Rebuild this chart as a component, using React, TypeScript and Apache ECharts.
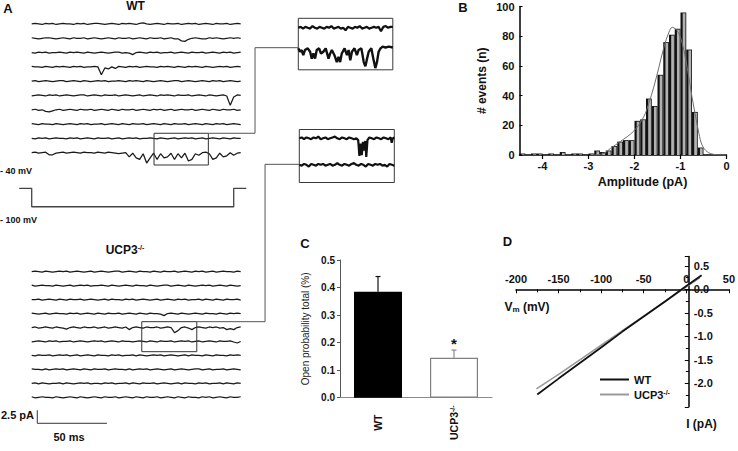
import { useEffect, useRef } from 'react';
import * as echarts from 'echarts';

const FONT = '"Liberation Sans", Arial, Helvetica, sans-serif';

// ---------------- Panel A: single-channel traces (units of 0.1 pA) ----------------
const traceDurationMs = 150;
const traceUnitPa = 0.1;

const wt1 = [0,1,0,-1,1,0,1,-1,0,1, 0,0,-1,1,0,1,-1,0,1,1, 0,-1,0,1,0,-1,1,0,1,0, -1,1,2,0,-1,0,1,0,-1,1, 0,0,1,-1,0,1,0,1,-1,0, 1,0,-1,1,0,0,1,-1,0,1, 0];
const wt2 = [1,0,-1,0,1,1,0,-1,0,1, 0,-1,1,0,0,1,-1,0,1,0, -1,0,1,0,-1,1,0,0,1,-1, 0,1,0,-1,1,0,0,1,-1,0, 1,-1,-1,-5,-6,-2,0,1,0,-1, -1,1,0,1,0,-1,0,1,0,1, 0];
const wt3 = [0,-1,1,0,1,-1,0,0,1,0, -1,1,0,1,0,-1,1,0,-1,0, 1,0,-1,0,1,1,-1,0,-1,-4, 0,1,0,-1,1,0,1,-1,0,0, 1,-1,0,1,0,-1,1,0,0,1, -1,0,1,0,-1,1,0,1,-1,0, 1];
const wt4 = [1,0,0,-1,1,0,-1,1,0,1, 0,-1,1,0,1,-1,0,0,1,0, -15,-2,-4,0,-3,1,0,-1,1,0, 1,-1,0,1,0,0,-1,1,0,1, 0,-1,1,0,-1,1,0,1,0,-1, 1,0,-1,0,1,0,1,-1,0,1, 0];
const wt5 = [0,1,-1,0,1,0,-1,0,1,1, -1,0,1,0,-1,1,0,-1,0,1, 0,1,-1,0,0,1,0,-1,1,0, 1,0,-1,1,0,-1,0,1,0,-1, 0,1,1,-1,0,1,0,-1,0,1, 0,-1,1,0,1,-1,0,1,0,-1, 0];
const wt6 = [-1,0,1,0,-1,1,0,1,-1,0, 1,0,-1,0,1,1,-1,0,1,0, -1,1,0,0,1,-1,0,1,0,-1, 0,1,-1,0,1,0,-1,1,0,1, 0,-1,1,0,0,1,-1,0,1,0, -1,1,0,-1,0,1,-1,-19,-3,1, 0];
const wt7 = [0,1,-1,0,-3,-4,-2,0,1,-1, 0,1,0,-1,1,0,0,1,-1,0, 1,0,-1,1,0,-1,1,0,0,1, -1,0,1,0,-1,1,0,1,-1,0, 1,-1,0,1,0,0,1,-1,0,1, 0,-1,1,0,-1,1,0,0,1,-1, 0];
const wt8 = [1,0,-1,1,0,0,-1,1,0,-1, 0,1,0,-1,1,0,1,-1,0,0, 1,-1,0,1,0,-1,1,0,-1,1, 0,0,1,-1,0,1,0,-1,1,0, -1,1,0,0,1,-1,0,1,0,-1, 1,0,-1,1,0,1,-1,0,1,0, -1];
const wt9 = [0,-1,1,0,1,-1,0,1,0,0, -1,1,0,1,-1,0,1,0,-1,1, 0,0,1,-1,0,1,-1,0,1,0, 1,-1,0,0,1,0,-1,1,0,-1, 0,1,-1,0,1,0,1,-1,0,1, -1,0,1,0,-1,1,0,-1,1,0, 0];
const wt10 = [0,1,-1,0,1,-4,-4,-1,0,1, -1,0,1,0,-1,1,0,0,-1,1, 0,-1,1,0,-1,-2,-1,0,-8,-1, -10,-13,-2,-20,-10,-1,-13,-2,-10,-8, -1,-13,-2,-10,-1,-16,-13,-2,-5,0, 1,-2,-13,-10,-1,-8,-6,0,-5,-1, 0];

const ucp1 = [0,1,0,-1,1,0,-1,0,1,0, 1,-1,0,1,0,-1,0,1,-1,0, 1,0,-1,0,1,1,-1,0,1,0, -1,1,0,0,-1,1,0,-1,1,0, 0,1,-1,0,1,0,-1,1,0,1, -1,0,1,-1,0,1,0,0,-1,1, 0];
const ucp2 = [1,-1,0,1,0,0,-1,1,0,-1, 0,1,-1,0,1,0,1,-1,0,0, 1,0,-1,1,0,-1,0,1,0,-1, 1,0,0,-1,1,0,-1,0,1,1, -1,0,1,0,-1,1,0,-1,0,1, 0,1,-1,0,1,0,-1,1,0,-1, 0];
const ucp3 = [0,0,1,-1,0,1,0,-1,1,0, -1,1,0,0,1,-1,0,1,0,-1, 0,1,-1,1,0,0,-1,1,0,1, -1,0,1,0,-1,0,1,-1,0,1, 0,-1,1,0,1,-1,0,0,1,-1, 1,0,-1,1,0,-1,1,0,0,1, -1];
const ucp4 = [1,0,-1,0,1,-1,0,1,0,0, -1,1,0,1,-1,0,1,0,-1,1, 0,-1,1,0,0,1,-1,0,1,0, -1,1,0,-1,1,0,0,-1,-4,0, 1,0,-1,1,0,-1,0,1,0,-1, 1,0,0,-1,1,0,-1,1,0,1, 0];
const ucp5 = [0,1,-1,0,1,0,-1,1,0,-1, -3,0,1,0,-1,1,0,0,1,-1, 0,1,-1,0,1,0,-1,1,-4,0, 1,0,-1,1,0,0,1,-1,0,1, 0,-10,-6,0,1,-1,-4,0,1,0, -1,1,0,1,-1,0,-4,-2,-4,0, 1];
const ucp6 = [-1,0,1,0,-1,1,0,1,-1,0, 0,1,-1,0,1,0,-1,0,1,0, 1,-1,0,1,0,-1,1,0,0,-1, 0,1,0,-1,1,0,-1,1,0,0, 1,-1,0,1,0,1,-1,0,1,-1, 0,1,0,-1,1,0,0,1,-1,-3, 0];
const ucp7 = [0,-1,1,0,0,1,-1,0,1,0, 1,-1,0,1,-1,0,1,0,-1,1, 0,0,-1,1,0,1,-1,0,0,1, -1,1,0,-1,0,1,0,1,-1,0, 1,0,-1,0,1,-1,1,0,0,-1, 1,0,-1,1,0,0,-1,1,0,1, 0];
const ucp8 = [1,0,0,-1,1,-1,0,1,0,1, -1,0,1,0,-1,1,0,-1,1,0, 0,1,-1,0,1,0,0,-1,1,-1, 0,1,0,1,-1,0,1,0,-1,0, 1,-1,0,1,0,-1,0,1,1,-1, 0,1,-1,0,0,1,-1,0,1,0, -1];
const ucp9 = [0,1,-1,1,0,-1,0,0,1,-1, 1,0,-1,0,1,0,1,-1,0,0, -1,1,0,1,-1,0,0,1,-1,1, 0,-1,1,0,0,1,-1,0,1,0, -1,0,1,-1,1,0,0,-1,1,0, 1,-1,0,0,1,-1,1,0,-1,1, 0];
const ucp10 = [1,-1,0,1,0,0,-1,1,0,-1, 0,1,0,-1,1,0,-1,0,1,0, -1,1,0,0,1,-1,0,1,0,-1, 1,0,-1,1,0,0,1,-1,0,1, 0,-1,1,0,-1,1,0,0,-1,1, 0,1,-1,0,1,0,-1,1,0,0, 1];

const wtTraces = [wt1, wt2, wt3, wt4, wt5, wt6, wt7, wt8, wt9, wt10];
const ucpTraces = [ucp1, ucp2, ucp3, ucp4, ucp5, ucp6, ucp7, ucp8, ucp9, ucp10];

// insets (expanded views, 40 ms windows, units of 0.1 pA)
const wtInsetUpper = [0,1,-1,1,0,-1,2,0,-1,1, 0,-1,1,0,2,-1,0,1,-1,0, -3,1,0,-1,1,0,2,-1,0,1, -1,0,1,0,1,-4,1,2,0,1, 1];
const wtInsetLower: [number, number][] = [
  [0,0],[0.7,-4],[1.4,-2],[2.1,-8],[2.8,-2],[4.0,0],[5.0,-4],[5.7,-12],[6.4,-6],[7.1,-12],[7.8,-2],[8.8,0],
  [9.6,-6],[10.6,-4],[11.6,0],[12.8,-12],[13.5,-6],[14.2,-2],[15.3,-8],[16.3,-16],[17.0,-10],[17.7,-16],
  [18.4,-6],[19.6,0],[20.6,-8],[21.3,-2],[22.0,-14],[22.7,-4],[23.8,0],[24.8,-8],[25.5,-2],[26.7,0],
  [27.7,-16],[28.4,-21],[29.1,-12],[29.8,-4],[30.9,0],[31.9,-14],[32.6,-23],[33.3,-16],[34.0,-4],[34.8,0],
  [35.7,2],[36.9,1],[38.3,2],[40,1],
];
const ucpInsetUpper: [number, number][] = [
  [0,0],[1,1],[2,-1],[3,1],[4,0],[5,-1],[6,1],[7,0],[8,2],[9,-1],[10,0],[11,1],[12,-1],[13,0],[14,1],
  [15,2],[16,0],[17,-1],[18,1],[19,0],[20,-1],[21,1],[22,0],[23,-1],[24,0],[24.8,-2],[25.3,-20],[25.8,-6],
  [26.3,-19],[26.8,-4],[27.3,-14],[27.8,-3],[28.2,-21],[28.7,-2],[29.5,1],[30.5,0],[31.5,-1],[32.5,1],
  [33.5,0],[34.5,-1],[35.5,1],[36.5,0],[37.5,-1],[38.5,1],[38.9,-5],[39.4,0],[40,1],
];
const ucpInsetLower = [0,-1,1,0,-2,1,0,-1,1,0, 1,-1,0,1,-1,0,2,0,-1,1, 0,-1,1,2,0,-1,1,0,-2,1, 0,-1,1,0,1,-1,0,-2,1,0, -1];

// voltage protocol
const protocolTimeMs = [-9, 0, 0, 145, 145, 154];
const protocolMv = [-40, -40, -100, -100, -40, -40];

// ---------------- Panel B: amplitude histogram ----------------
const binStartPa = -4.5;
const binWidthPa = 0.125;
const eventCounts = [1,0,1,1,0,1,0,2,0,1,1,0,1,3,2,3,6,9,10,10,23,24,38,33,54,76,81,85,96,71,29,5];
const fitAmplitude = [-2.9,-2.67,-2.52,-2.31,-2.02,-1.8,-1.69,-1.58,-1.47,-1.36,-1.25,-1.18,-1.11,-1.04,-0.96,-0.89,-0.82,-0.75,-0.67,-0.6,-0.53,-0.42,-0.27,0];
const fitCount = [0,1,4.5,9,16,25.7,34.7,45.9,59,72.7,82.8,86,85,82,75,65,52.6,39,25.7,14.5,6.7,2.2,0.4,0];
const ampTicks = [-4, -3, -2, -1, 0];

// ---------------- Panel C: open probability ----------------
const groups = ['WT', 'UCP3'];
const openProbability = [0.385, 0.145];
const openProbabilitySem = [0.055, 0.028];
const significance = ['', '*'];

// ---------------- Panel D: I-V relation ----------------
const ivVoltage = [-175, -150, -125, -100, -75, -50, -25, 0, 18];
const wtCurrent = [-2.24, -1.90, -1.57, -1.24, -0.90, -0.58, -0.26, 0.07, 0.30];
const ucpVoltage = [-176, -150, -125, -100, -75, -50, -25, 0, 16];
const ucpCurrent = [-2.12, -1.81, -1.50, -1.19, -0.88, -0.57, -0.26, 0.05, 0.25];

// ---------------- layout constants (panel A, in axis units) ----------------
const WT_TOP_PA = 82.12, WT_SPACING_PA = 2.75;
const UCP_TOP_PA = 34.48, UCP_SPACING_PA = 2.683;
const SCALE_BAR = { t0: 4, v0: 5.33, ms: 50, pa: 2.5 };
const WT_BOX = { t: [87.8, 126.8], v: [55.0, 61.1] };
const UCP_BOX = { t: [79.0, 118.5], v: [19.1, 24.87] };
const WT_LINK = { t: [126.8, 160.3, 160.3, 191.4], v: [61.1, 61.1, 77.56, 77.56] };
const UCP_LINK = { t: [118.5, 167.5, 167.5, 192.1], v: [24.87, 24.87, 55.13, 55.13] };

// panel D geometry
const D_GRID = { left: 516, top: 256.4, width: 216, height: 150.4 };
const D_X = [-200, 50];
const D_Y = [-2.5, 0.7];

const supRich = (size: number) => ({
  b: { fontSize: size, fontWeight: 'bold', fontFamily: FONT, color: '#111', fill: '#111' },
  s: { fontSize: Math.round(size * 0.62), fontWeight: 'bold', fontFamily: FONT, color: '#111', fill: '#111', verticalAlign: 'top' },
});
const ucpLabel = (name: string) => (name === 'UCP3' ? '{b|UCP3}{s|-/-}' : '{b|' + name + '}');

function buildOption(): any {
  const series: any[] = [];
  const lineBase = { type: 'line', symbol: 'none', showSymbol: false, silent: true, animation: false };
  const traceStyle = { color: '#1a1a1a', width: 1.25 };

  wtTraces.forEach((tr, k) => {
    const off = WT_TOP_PA - k * WT_SPACING_PA;
    series.push({ ...lineBase, name: 'wt-trace-' + (k + 1), xAxisIndex: 0, yAxisIndex: 0, lineStyle: traceStyle,
      data: tr.map((d, i) => [i * traceDurationMs / (tr.length - 1), off + d * traceUnitPa]) });
  });
  ucpTraces.forEach((tr, k) => {
    const off = UCP_TOP_PA - k * UCP_SPACING_PA;
    series.push({ ...lineBase, name: 'ucp-trace-' + (k + 1), xAxisIndex: 0, yAxisIndex: 0, lineStyle: traceStyle,
      data: tr.map((d, i) => [i * traceDurationMs / (tr.length - 1), off + d * traceUnitPa]) });
  });
  series.push({ ...lineBase, name: 'scale', xAxisIndex: 0, yAxisIndex: 0, lineStyle: { color: '#333', width: 1 },
    data: [[SCALE_BAR.t0, SCALE_BAR.v0 + SCALE_BAR.pa], [SCALE_BAR.t0, SCALE_BAR.v0], [SCALE_BAR.t0 + SCALE_BAR.ms, SCALE_BAR.v0]] });
  [WT_BOX, UCP_BOX].forEach((b, k) => {
    series.push({ ...lineBase, name: 'box-' + k, xAxisIndex: 0, yAxisIndex: 0, lineStyle: { color: '#333', width: 1 },
      data: [[b.t[0], b.v[1]], [b.t[1], b.v[1]], [b.t[1], b.v[0]], [b.t[0], b.v[0]], [b.t[0], b.v[1]]] });
  });
  [WT_LINK, UCP_LINK].forEach((l, k) => {
    series.push({ ...lineBase, name: 'link-' + k, xAxisIndex: 0, yAxisIndex: 0, lineStyle: { color: '#555', width: 1 },
      data: l.t.map((t, i) => [t, l.v[i]]) });
  });
  series.push({ ...lineBase, name: 'protocol', xAxisIndex: 1, yAxisIndex: 1, lineStyle: { color: '#444', width: 1.3 },
    data: protocolTimeMs.map((t, i) => [t, protocolMv[i]]) });
  series.push({ ...lineBase, name: 'wt-inset-up', xAxisIndex: 2, yAxisIndex: 2, lineStyle: { color: '#111', width: 2.2 },
    data: wtInsetUpper.map((d, i) => [i * 40 / (wtInsetUpper.length - 1), 2.4 + d * traceUnitPa]) });
  series.push({ ...lineBase, name: 'wt-inset-low', xAxisIndex: 2, yAxisIndex: 2, lineStyle: { color: '#111', width: 2.4 },
    data: wtInsetLower.map(([t, d]) => [t, d * traceUnitPa]) });
  series.push({ ...lineBase, name: 'ucp-inset-up', xAxisIndex: 3, yAxisIndex: 3, lineStyle: { color: '#111', width: 2.2 },
    data: ucpInsetUpper.map(([t, d]) => [t, 3.0 + d * traceUnitPa]) });
  series.push({ ...lineBase, name: 'ucp-inset-low', xAxisIndex: 3, yAxisIndex: 3, lineStyle: { color: '#111', width: 2.2 },
    data: ucpInsetLower.map((d, i) => [i * 40 / (ucpInsetLower.length - 1), d * traceUnitPa]) });

  // Panel B histogram
  series.push({
    type: 'custom', name: 'histogram', xAxisIndex: 4, yAxisIndex: 4, silent: true,
    encode: { x: [0, 1], y: 2 },
    data: eventCounts.map((c, i) => [binStartPa + i * binWidthPa, binStartPa + (i + 1) * binWidthPa, c]),
    renderItem: (_p: any, api: any) => {
      const p0 = api.coord([api.value(0), 0]);
      const p1 = api.coord([api.value(1), api.value(2)]);
      const x = p0[0], w = p1[0] - p0[0], y = p1[1], h = p0[1] - p1[1];
      if (h <= 0) return { type: 'group', children: [] };
      return {
        type: 'group',
        children: [
          { type: 'rect', shape: { x, y, width: w, height: h }, style: { fill: '#111' } },
          { type: 'rect', shape: { x: x + w * 0.38, y: y + 0.8, width: w * 0.62 - 0.8, height: Math.max(h - 0.8, 0.4) }, style: { fill: '#b2b2b2' } },
        ],
      };
    },
  });
  series.push({ ...lineBase, name: 'fit', xAxisIndex: 4, yAxisIndex: 4, smooth: 0.35, z: 5,
    lineStyle: { color: '#6e6e6e', width: 1 }, data: fitAmplitude.map((a, i) => [a, fitCount[i]]) });

  // Panel C bars
  const barStyles = [
    { color: '#000', borderColor: '#000', borderWidth: 0 },
    { color: '#fff', borderColor: '#808080', borderWidth: 1.2 },
  ];
  const errColors = ['#111', '#8a8a8a'];
  series.push({ type: 'bar', name: 'Open probability', xAxisIndex: 5, yAxisIndex: 5, barWidth: 48, silent: true,
    data: openProbability.map((v, i) => ({ value: v, itemStyle: barStyles[i] })) });
  series.push({
    type: 'custom', name: 'sem', xAxisIndex: 5, yAxisIndex: 5, z: 4, silent: true,
    encode: { x: 0, y: 1 },
    data: groups.map((_g, i) => [i, openProbability[i], openProbabilitySem[i]]),
    renderItem: (params: any, api: any) => {
      const idx = params.dataIndex;
      const top = api.coord([api.value(0), api.value(1)]);
      const hi = api.coord([api.value(0), api.value(1) + api.value(2)]);
      const c = errColors[idx];
      const children: any[] = [
        { type: 'line', shape: { x1: top[0], y1: top[1], x2: hi[0], y2: hi[1] }, style: { stroke: c, lineWidth: 1.2 } },
        { type: 'line', shape: { x1: hi[0] - 2.5, y1: hi[1], x2: hi[0] + 2.5, y2: hi[1] }, style: { stroke: c, lineWidth: 1.2 } },
      ];
      if (significance[idx]) {
        children.push({ type: 'text', x: hi[0], y: hi[1] - 7, style: { text: significance[idx], fontSize: 15, fontWeight: 'bold', fontFamily: FONT, fill: '#111', align: 'center', verticalAlign: 'middle' } });
      }
      return { type: 'group', children };
    },
  });

  // Panel D IV lines
  series.push({ ...lineBase, name: 'WT', color: '#111', xAxisIndex: 6, yAxisIndex: 6, z: 4,
    itemStyle: { color: '#111' }, lineStyle: { color: '#111', width: 1.8 },
    data: ivVoltage.map((v, i) => [v, wtCurrent[i]]) });
  series.push({ ...lineBase, name: 'UCP3', color: '#9a9a9a', xAxisIndex: 6, yAxisIndex: 6, z: 3,
    itemStyle: { color: '#9a9a9a' }, lineStyle: { color: '#9a9a9a', width: 1.6 },
    data: ucpVoltage.map((v, i) => [v, ucpCurrent[i]]) });

  const hidden = (gi: number, min: number, max: number) => ({ gridIndex: gi, type: 'value', min, max, show: false, splitLine: { show: false } });
  const tickLabel = { fontSize: 11, fontWeight: 'bold', color: '#111', fontFamily: FONT };

  // offsets that put panel D's axes through the origin
  const dXAxisOffset = -(D_GRID.height * (0 - D_Y[0]) / (D_Y[1] - D_Y[0]));
  const dYAxisOffset = -(D_GRID.width * (0 - D_X[0]) / (D_X[1] - D_X[0]));

  const txt = (text: string, x: number, y: number, size: number, align = 'center', weight = 'bold') => ({
    type: 'text', x, y, silent: true,
    style: { text, fontSize: size, fontWeight: weight, fontFamily: FONT, fill: '#111', align, verticalAlign: 'middle' },
  });

  return {
    animation: false,
    backgroundColor: '#fff',
    grid: [
      { left: 17.77, top: 0, width: 285.6, height: 451 },
      { left: 17.77, top: 182.2, width: 285.6, height: 30.67 },
      { left: 298.3, top: 18.3, width: 94.5, height: 51.5, show: true, borderColor: '#3a3a3a', borderWidth: 1, backgroundColor: '#fff' },
      { left: 299.3, top: 129.5, width: 95, height: 53, show: true, borderColor: '#3a3a3a', borderWidth: 1, backgroundColor: '#fff' },
      { left: 519.5, top: 6.5, width: 207, height: 148.5 },
      { left: 340, top: 260, width: 152, height: 137.7 },
      { ...D_GRID },
    ],
    xAxis: [
      hidden(0, -10, 195),
      hidden(1, -10, 195),
      hidden(2, 0, 40),
      hidden(3, 0, 40),
      {
        gridIndex: 4, type: 'value', min: -4.5, max: 0,
        axisLine: { show: true, onZero: false, lineStyle: { color: '#000', width: 1.5 } },
        axisTick: { show: true, customValues: ampTicks, length: 4, lineStyle: { color: '#000', width: 1.2 } },
        axisLabel: { ...tickLabel, customValues: ampTicks, margin: 5 },
        splitLine: { show: false },
      },
      {
        gridIndex: 5, type: 'category', data: groups,
        axisLine: { show: true, onZero: false, lineStyle: { color: '#8c8c8c', width: 1.2 } },
        axisTick: { show: false },
        axisLabel: { rotate: 90, align: 'center', verticalAlign: 'middle', margin: 25, formatter: ucpLabel, rich: supRich(10.5) },
        splitLine: { show: false },
      },
      {
        gridIndex: 6, type: 'value', min: D_X[0], max: D_X[1], interval: 50, position: 'bottom', offset: dXAxisOffset,
        axisLine: { show: true, onZero: false, lineStyle: { color: '#000', width: 1.5 } },
        axisTick: { show: true, inside: false, length: 4, lineStyle: { color: '#000' } },
        minorTick: { show: true, splitNumber: 2, length: 3, lineStyle: { color: '#000' } },
        axisLabel: { ...tickLabel, inside: true, margin: 5 },
        splitLine: { show: false }, minorSplitLine: { show: false },
      },
    ],
    yAxis: [
      hidden(0, 0, 86.73),
      hidden(1, -120, -20),
      hidden(2, -2.5, 3.5),
      hidden(3, -2, 4),
      {
        gridIndex: 4, type: 'value', min: 0, max: 100, interval: 20,
        axisLine: { show: true, onZero: false, lineStyle: { color: '#000', width: 1.5 } },
        axisTick: { show: true, inside: true, length: 3, lineStyle: { color: '#000' } },
        axisLabel: { ...tickLabel, margin: 5 },
        splitLine: { show: false },
        name: '# events (n)', nameLocation: 'middle', nameGap: 32,
        nameTextStyle: { fontSize: 12, fontWeight: 'bold', color: '#111', fontFamily: FONT },
      },
      {
        gridIndex: 5, type: 'value', min: 0, max: 0.5, interval: 0.1,
        axisLine: { show: true, onZero: false, lineStyle: { color: '#555', width: 1 } },
        axisTick: { show: true, length: 3, lineStyle: { color: '#555' } },
        axisLabel: { fontSize: 10, fontWeight: 'bold', color: '#111', fontFamily: FONT, margin: 5, formatter: (v: number) => v.toFixed(1) },
        splitLine: { show: false },
        name: 'Open probability total (%)', nameLocation: 'middle', nameGap: 30,
        nameTextStyle: { fontSize: 10, color: '#222', fontFamily: FONT },
      },
      {
        gridIndex: 6, type: 'value', min: D_Y[0], max: D_Y[1], interval: 0.5, position: 'left', offset: dYAxisOffset,
        axisLine: { show: true, onZero: false, lineStyle: { color: '#000', width: 1.5 } },
        axisTick: { show: true, inside: false, length: 4, lineStyle: { color: '#000' } },
        minorTick: { show: true, splitNumber: 2, length: 3, lineStyle: { color: '#000' } },
        axisLabel: { ...tickLabel, inside: true, margin: 5,
          formatter: (v: number) => (v > 0.55 || v < -2.25 ? '' : v.toFixed(1)) },
        splitLine: { show: false }, minorSplitLine: { show: false },
      },
    ],
    legend: {
      show: true, data: ['WT', 'UCP3'], orient: 'vertical', left: 600, top: 374, padding: 0,
      icon: 'rect', itemWidth: 29, itemHeight: 2, itemGap: 4, selectedMode: false,
      formatter: ucpLabel,
      textStyle: { rich: supRich(11) },
    },
    graphic: [
      txt('A', 8, 8, 13),
      txt('WT', 135.5, 6, 12),
      {
        type: 'text', x: 125, y: 250, silent: true,
        style: { text: '{b|UCP3}{s|-/-}', rich: supRich(12), align: 'center', verticalAlign: 'middle' },
      },
      txt('- 40 mV', 0, 171, 9, 'left'),
      txt('- 100 mV', 0, 220, 9, 'left'),
      txt('2.5 pA', 34, 415, 11, 'right'),
      txt('50 ms', 69, 437, 11),
      txt('B', 463, 7, 13),
      txt('Amplitude (pA)', 642.5, 182, 12.5),
      txt('C', 305, 243, 13),
      txt('D', 507.5, 241.7, 13),
      {
        type: 'text', x: 527, y: 307, silent: true,
        style: {
          text: '{b|V}{m|m}{b| (mV)}', align: 'center', verticalAlign: 'middle',
          rich: {
            b: { fontSize: 12, fontWeight: 'bold', fontFamily: FONT, fill: '#111' },
            m: { fontSize: 8, fontWeight: 'bold', fontFamily: FONT, fill: '#111', verticalAlign: 'bottom' },
          },
        },
      },
      txt('I (pA)', 701.5, 424, 12),
    ],
    series,
  };
}

export default function App() {
  const ref = useRef<HTMLDivElement>(null);
  useEffect(() => {
    if (!ref.current) return;
    const chart = echarts.init(ref.current, undefined, { renderer: 'svg' });
    chart.setOption(buildOption());
    return () => chart.dispose();
  }, []);
  return (
    <div
      ref={ref}
      style={{ position: 'fixed', left: 0, top: 0, width: 738, height: 451, background: '#fff' }}
    />
  );
}
